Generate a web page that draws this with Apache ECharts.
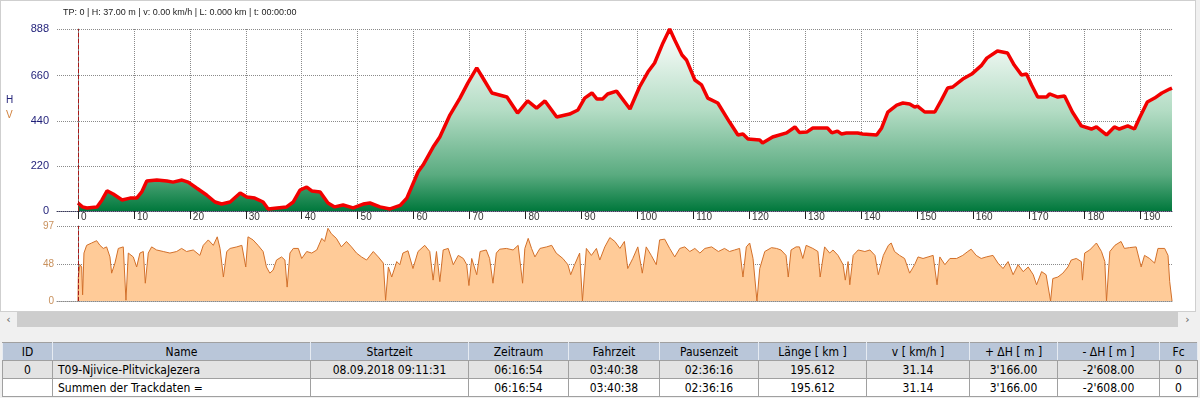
<!DOCTYPE html>
<html>
<head>
<meta charset="utf-8">
<script src="https://cdn.jsdelivr.net/npm/echarts@6/dist/echarts.min.js"></script>
<style>
  body { margin: 0; width: 1200px; height: 398px; overflow: hidden; position: relative; background: #f0f0f0; font-family: 'Liberation Sans', Arial, sans-serif; }
  .panel { position: absolute; left: 0; top: 0; width: 1196px; height: 312px; background: #fff; border: 1px solid #cfcfcf; box-sizing: border-box; }
  #chart { position: absolute; left: -1px; top: -1px; width: 1196px; height: 312px; }
  .scroll { position: absolute; left: 0; top: 312px; width: 1196px; height: 15px; background: #f0f0f0; }
  .thumb { position: absolute; left: 17px; top: 0; width: 1161px; height: 15px; background: #cdcdcd; }
  .arrow { position: absolute; top: 0; width: 17px; height: 15px; line-height: 15px; text-align: center; color: #606060; font-size: 11px; font-family: 'DejaVu Sans', sans-serif; }
  table.tracks { position: absolute; left: 2px; top: 342px; border-collapse: collapse; table-layout: fixed; font-family: 'Liberation Sans Narrow', 'Arial Narrow', 'DejaVu Sans Condensed', sans-serif; font-size: 12px; color: #000; }
  table.tracks td, table.tracks th { height: 17px; padding: 0; border: 1px solid #a0a0a0; text-align: center; white-space: nowrap; overflow: hidden; font-weight: normal; }
  table.tracks th { background: #b9c6d9; border-color: #a0a0a0 #e6ebf2 #a0a0a0 #e6ebf2; }
  table.tracks tr.r1 td { background: #e3e3e3; }
  table.tracks tr.r2 td { background: #fff; }
  table.tracks td.name { text-align: left; padding-left: 5px; }
</style>
</head>
<body>
<div class="panel"><div id="chart"></div></div>
<div class="scroll">
  <div class="arrow" style="left:0">&lsaquo;</div>
  <div class="thumb"></div>
  <div class="arrow" style="left:1179px">&rsaquo;</div>
</div>
<table class="tracks">
  <colgroup>
    <col style="width:50px"><col style="width:258px"><col style="width:158px"><col style="width:100px">
    <col style="width:91px"><col style="width:99px"><col style="width:108px"><col style="width:103px">
    <col style="width:88px"><col style="width:102px"><col style="width:38px">
  </colgroup>
  <tr id="head"></tr>
  <tr class="r1" id="row1"></tr>
  <tr class="r2" id="row2"></tr>
</table>
<script>
// elevation profile (km, m)
const elevKm = [0, 0.8, 1.6, 3.4, 4.3, 5.2, 6.3, 7.9, 9.3, 10.5, 11.4, 12.3, 14.1, 15.9, 17, 18.6, 19.7, 21.2, 23, 24.5,
  25.7, 27.2, 29, 30.2, 31.6, 33.1, 34, 35.6, 37.3, 38.5, 39.7, 40.9, 41.8, 43.3, 44.7, 45.9, 47.4, 49.2, 51, 52.2,
  54, 55.8, 57.6, 58.8, 60.8, 61.7, 63.5, 64.7, 66.5, 68.3, 69.7, 71.3, 72.4, 74, 76.7, 78.6, 80.4, 82, 83.5, 85.6,
  87.9, 89.4, 90.6, 91.9, 92.8, 93.8, 94.7, 96.3, 98.7, 100.4, 101.9, 103.1, 104.6, 105.8, 106.7, 108, 108.8, 110.3, 111.5, 112.6,
  114.4, 116.5, 118, 118.9, 119.8, 121.9, 122.4, 124.2, 126.7, 128.2, 129, 130.3, 131.4, 134, 134.8, 135.8, 136.5, 137.4, 139.4, 140.3,
  142.8, 143.7, 144.8, 146.4, 147.5, 148.7, 149.6, 150.1, 151.4, 153.2, 154.4, 155.5, 156.4, 158.2, 159.8, 161.6, 162.5, 164.4, 166.2, 167.4,
  168.7, 169.6, 170.5, 171.6, 173.2, 173.7, 175.2, 176.4, 177.8, 179.4, 181.2, 182.1, 183.9, 185.3, 186.2, 187.7, 188.9, 189.8, 191.2, 192.5,
  193.8, 195.2, 195.612]
const elevH = [39, 20, 15, 20, 54, 98, 83, 54, 63, 63, 93, 146, 151, 146, 141, 151, 141, 112, 78, 44,
  34, 44, 88, 68, 63, 44, 10, 15, 20, 44, 102, 117, 98, 93, 39, 20, 29, 15, 34, 39,
  20, 10, 27, 63, 190, 224, 312, 361, 468, 551, 624, 698, 649, 576, 556, 478, 537, 502, 537, 459,
  473, 493, 551, 576, 546, 546, 571, 585, 498, 605, 678, 722, 820, 888, 834, 761, 737, 639, 615, 551,
  527, 434, 371, 376, 351, 346, 332, 361, 381, 410, 383, 385, 405, 405, 381, 390, 376, 381, 381, 376,
  371, 405, 483, 517, 527, 522, 507, 512, 483, 483, 542, 600, 605, 644, 668, 712, 746, 781, 771, 712,
  664, 668, 615, 556, 556, 571, 556, 561, 483, 415, 400, 410, 371, 410, 400, 415, 400, 454, 532, 551,
  576, 595, 600]

// speed profile (km, km/h)
const speedKm = [0, 0.06, 0.36, 0.66, 0.83, 1.07, 1.55, 2.44, 3.34, 3.93, 4.53, 5.12, 5.72, 6.02, 6.61, 7.21, 8.1, 8.58, 9.0, 9.89,
  10.49, 11.08, 11.68, 12.04, 12.57, 13.17, 14.06, 15.25, 16.44, 17.64, 18.53, 19.42, 20.61, 21.8, 22.4, 23.3, 24.2, 24.9, 25.4, 26.0,
  26.6, 27.2, 28.4, 29.3, 30.0, 30.4, 31.3, 32.2, 33.1, 33.7, 34.3, 34.9, 35.5, 36.4, 37.0, 37.4, 37.9, 38.5, 39.4, 40.0,
  40.9, 41.8, 42.7, 43.6, 44.1, 44.7, 45.3, 46.2, 47.1, 48.0, 48.9, 49.8, 50.7, 51.6, 52.8, 53.7, 54.6, 55.0, 55.5, 56.1,
  57.0, 57.55, 58.1, 59.0, 59.9, 60.8, 62.0, 62.9, 63.5, 64.1, 64.7, 65.3, 66.2, 67.1, 68.0, 68.9, 69.5, 69.9, 70.4, 71.3,
  71.9, 73.0, 73.6, 74.2, 74.8, 75.4, 76.6, 77.8, 78.7, 79.5, 79.9, 80.5, 81.1, 81.7, 82.6, 83.8, 84.7, 85.5, 86.7, 87.6,
  88.1, 88.8, 89.7, 90.2, 90.9, 91.8, 92.7, 93.3, 94.2, 95.1, 96.0, 96.9, 97.7, 98.3, 99.2, 100.1, 100.9, 101.6, 102.5, 103.4,
  104.0, 104.9, 105.8, 106.7, 107.6, 108.5, 109.4, 110.3, 111.2, 112.1, 113.3, 114.5, 115.6, 116.5, 117.4, 118.3, 118.9, 119.5, 120.1, 120.7,
  121.4, 121.9, 122.8, 124.0, 124.9, 125.7, 126.6, 127.0, 127.5, 128.4, 129.0, 129.6, 130.2, 131.4, 132.3, 132.7, 133.5, 134.4, 135.0, 135.9,
  136.8, 137.2, 137.7, 138.0, 138.6, 139.5, 140.7, 141.6, 142.5, 143.1, 144.0, 144.9, 145.4, 146.0, 146.9, 147.8, 148.7, 149.6, 150.2, 151.1,
  152.0, 152.9, 153.6, 154.1, 155.0, 155.9, 157.1, 158.2, 159.1, 159.7, 160.6, 161.5, 162.4, 163.6, 164.5, 165.4, 166.3, 167.2, 168.1, 169.0,
  169.9, 170.8, 171.4, 172.3, 173.1, 173.9, 174.3, 175.2, 176.1, 177.0, 177.6, 178.5, 179.4, 179.6, 180.0, 180.9, 182.1, 183.0, 183.6, 183.9,
  184.5, 185.4, 186.5, 187.1, 188.0, 189.2, 190.1, 190.7, 191.6, 192.5, 193.1, 194.3, 194.9, 195.2, 195.612]
const speedV = [0, 31, 47, 44, 8, 62, 72, 75, 78, 72, 68, 70, 57, 36, 49, 68, 70, 1, 62, 57,
  44, 62, 64, 23, 62, 70, 66, 64, 62, 64, 68, 64, 66, 59, 72, 79, 72, 83, 68, 31,
  64, 68, 70, 72, 44, 83, 79, 72, 64, 44, 36, 40, 53, 57, 53, 18, 62, 68, 68, 55,
  64, 62, 66, 81, 77, 94, 87, 81, 70, 77, 70, 62, 57, 53, 64, 57, 49, 1, 44, 31,
  51, 47, 62, 65, 42, 64, 72, 64, 27, 64, 25, 66, 68, 47, 59, 55, 47, 20, 55, 34,
  64, 66, 55, 23, 62, 67, 68, 66, 72, 23, 68, 81, 68, 57, 68, 70, 72, 62, 55, 47,
  34, 47, 62, 0, 68, 59, 68, 53, 70, 82, 77, 68, 77, 42, 55, 70, 36, 70, 59, 47,
  79, 80, 68, 57, 68, 70, 64, 68, 62, 68, 70, 64, 68, 64, 66, 68, 31, 70, 75, 55,
  0, 42, 64, 69, 68, 66, 59, 31, 66, 70, 70, 55, 72, 68, 64, 31, 70, 62, 66, 59,
  47, 27, 51, 21, 59, 66, 64, 66, 59, 34, 59, 72, 75, 64, 59, 55, 36, 47, 57, 55,
  57, 59, 21, 57, 47, 55, 55, 59, 64, 67, 59, 55, 57, 59, 49, 42, 51, 34, 47, 38,
  44, 34, 21, 38, 34, 0, 29, 31, 36, 44, 53, 55, 51, 27, 62, 66, 75, 64, 51, 0,
  64, 72, 77, 68, 69, 70, 44, 59, 55, 49, 68, 68, 59, 25, 0]

const xTicks = [0, 10, 20, 30, 40, 50, 60, 70, 80, 90, 100, 110, 120, 130, 140, 150, 160, 170, 180, 190]
const hTicks = [0, 220, 440, 660, 888]
const vTicks = [0, 48, 97]

const headerText = 'TP: 0 | H: 37.00 m | v: 0.00 km/h | L: 0.000 km | t: 00:00:00'
const tableHead = ['ID', 'Name', 'Startzeit', 'Zeitraum', 'Fahrzeit', 'Pausenzeit', 'Länge  [ km ]', 'v  [ km/h ]', '+ ΔH  [ m ]', '- ΔH  [ m ]', 'Fc']
const tableRow1 = ['0', 'T09-Njivice-PlitvickaJezera', '08.09.2018 09:11:31', '06:16:54', '03:40:38', '02:36:16', '195.612', '31.14', '3\'166.00', '-2\'608.00', '0']
const tableRow2 = ['', 'Summen der Trackdaten =', '', '06:16:54', '03:40:38', '02:36:16', '195.612', '31.14', '3\'166.00', '-2\'608.00', '0']

// table
const fillRow = (id, cells, tag) => {
  const tr = document.getElementById(id)
  cells.forEach((c, i) => {
    const el = document.createElement(tag)
    el.textContent = c
    if (i === 1 && tag === 'td') el.className = 'name'
    tr.appendChild(el)
  })
}
fillRow('head', tableHead, 'th')
fillRow('row1', tableRow1, 'td')
fillRow('row2', tableRow2, 'td')

const chart = echarts.init(document.getElementById('chart'))
const font = "'Liberation Sans', Arial, sans-serif"
const gridLine = { show: true, lineStyle: { color: '#8a8a8a', type: 'dotted', width: 1 } }
const cursor = {
  silent: true,
  symbol: 'none',
  label: { show: false },
  lineStyle: { color: '#a81818', type: 'dashed', width: 1 },
  data: [{ xAxis: 0 }],
}

const option = {
  animation: false,
  textStyle: { fontFamily: font },
  graphic: [
    { type: 'text', left: 63, top: 8, style: { text: headerText, fontSize: 9, fill: '#222', fontFamily: font } },
    { type: 'text', left: 6, top: 95, style: { text: 'H', fontSize: 10, fill: '#24247a', fontFamily: font } },
    { type: 'text', left: 6, top: 110, style: { text: 'V', fontSize: 10, fill: '#d0803c', fontFamily: font } },
  ],
  grid: [
    { left: 57, top: 29, width: 1115, height: 182 },
    { left: 57, top: 226, width: 1115, height: 75 },
  ],
  xAxis: [
    {
      type: 'value', gridIndex: 0, min: -3.75, max: 195.612,
      axisLine: { show: true, lineStyle: { color: '#3a3a5a', type: 'dotted' } },
      axisTick: { show: true, customValues: xTicks, length: 8, lineStyle: { color: '#222' } },
      axisLabel: { customValues: xTicks, align: 'left', margin: 1, padding: [0, 0, 0, 3], fontSize: 10, color: '#333' },
      splitLine: gridLine,
    },
    {
      type: 'value', gridIndex: 1, min: -3.75, max: 195.612,
      axisLine: { show: true, lineStyle: { color: '#8a8a8a', type: 'dotted' } },
      axisTick: { show: false },
      axisLabel: { show: false },
      splitLine: { show: false },
    },
  ],
  yAxis: [
    {
      type: 'value', gridIndex: 0, min: 0, max: 888,
      axisLine: { show: true, lineStyle: { color: '#808080' } },
      axisTick: { show: false, customValues: hTicks },
      axisLabel: { customValues: hTicks, margin: 8, fontSize: 11, color: '#1e1e78' },
      splitLine: gridLine,
    },
    {
      type: 'value', gridIndex: 1, min: 0, max: 97,
      axisLine: { show: true, lineStyle: { color: '#808080' } },
      axisTick: { show: false, customValues: vTicks },
      axisLabel: { customValues: vTicks, margin: 3, fontSize: 10, color: '#c8905c' },
      splitLine: gridLine,
    },
  ],
  series: [
    {
      name: 'H', type: 'line', xAxisIndex: 0, yAxisIndex: 0,
      data: elevKm.map((k, i) => [k, elevH[i]]),
      symbol: 'none',
      lineStyle: { color: '#f20000', width: 3.5 },
      areaStyle: {
        opacity: 1,
        color: new echarts.graphic.LinearGradient(0, 29, 0, 211, [
          { offset: 0, color: '#ffffff' },
          { offset: 0.45, color: '#b3dcc4' },
          { offset: 0.8, color: '#5aab80' },
          { offset: 1, color: '#00783c' },
        ], true),
      },
      markLine: cursor,
      z: 3,
    },
    {
      name: 'V', type: 'line', xAxisIndex: 1, yAxisIndex: 1,
      data: speedKm.map((k, i) => [k, speedV[i]]),
      symbol: 'none',
      lineStyle: { color: '#d2702a', width: 1 },
      areaStyle: { color: '#ffcb98', opacity: 1 },
      markLine: cursor,
      z: 3,
    },
  ],
}

chart.setOption(option)
</script>
</body>
</html>
